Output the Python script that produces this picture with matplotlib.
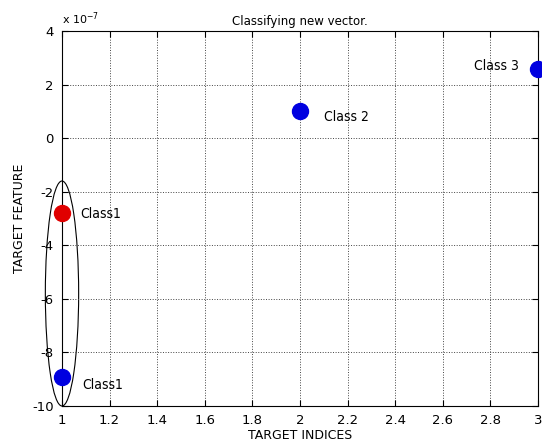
import matplotlib
matplotlib.use("Agg")
import matplotlib.pyplot as plt
from matplotlib.patches import Ellipse

plt.rcParams['axes.unicode_minus'] = False
plt.rcParams['font.family'] = ['DejaVu Sans']

# data (y in units of 1e-7)
idx = [1, 1, 2, 3]
feat = [-2.8, -8.9, 1.0, 2.6]
colors = ['#e00000', '#0000e0', '#0000e0', '#0000e0']
labels = ['Class1', 'Class1', 'Class 2', 'Class 3']

xticks = [1, 1.2, 1.4, 1.6, 1.8, 2, 2.2, 2.4, 2.6, 2.8, 3]
xtick_labels = ['1', '1.2', '1.4', '1.6', '1.8', '2', '2.2', '2.4', '2.6', '2.8', '3']
yticks = [-10, -8, -6, -4, -2, 0, 2, 4]

fig = plt.figure(figsize=(5.42, 4.45), dpi=100)
ax = fig.add_axes([62/542, 39/445, 476/542, 375/445])

for x, y, c in zip(idx, feat, colors):
    ax.plot(x, y, 'o', color=c, markersize=11.5, clip_on=False, zorder=5)

# text labels
narrow = dict(family=['DejaVu Sans'], fontstretch='condensed', fontsize=10)
ax.text(1.075, -2.85, labels[0], va='center', ha='left', **narrow)
ax.text(1.085, -9.2, labels[1], va='center', ha='left', **narrow)
ax.text(2.1, 0.8, labels[2], va='center', ha='left', **narrow)
ax.text(2.92, 2.7, labels[3], va='center', ha='right', **narrow)

ell = Ellipse((1, -5.8), 0.14, 8.4, fill=False, edgecolor='black', lw=0.8, clip_on=False)
ax.add_patch(ell)

ax.set_xlim(1, 3)
ax.set_ylim(-10, 4)
ax.set_xticks(xticks)
ax.set_xticklabels(xtick_labels)
ax.set_yticks(yticks)
ax.tick_params(direction='in', top=True, right=True, labelsize=9.5, length=4, pad=6)
ax.grid(True, linestyle=':', color='#444444', lw=0.7)
for s in ax.spines.values():
    s.set_linewidth(0.8)

ax.text(0, 1.012, r'x 10$^{-7}$', transform=ax.transAxes, fontsize=8, ha='left', va='bottom')
ax.set_title('Classifying new vector.', fontsize=8.5, pad=4)
ax.set_xlabel('TARGET INDICES', fontsize=9, labelpad=1)
ax.set_ylabel('TARGET FEATURE', fontsize=9, labelpad=4)

fig.savefig('out.png', dpi=100)
